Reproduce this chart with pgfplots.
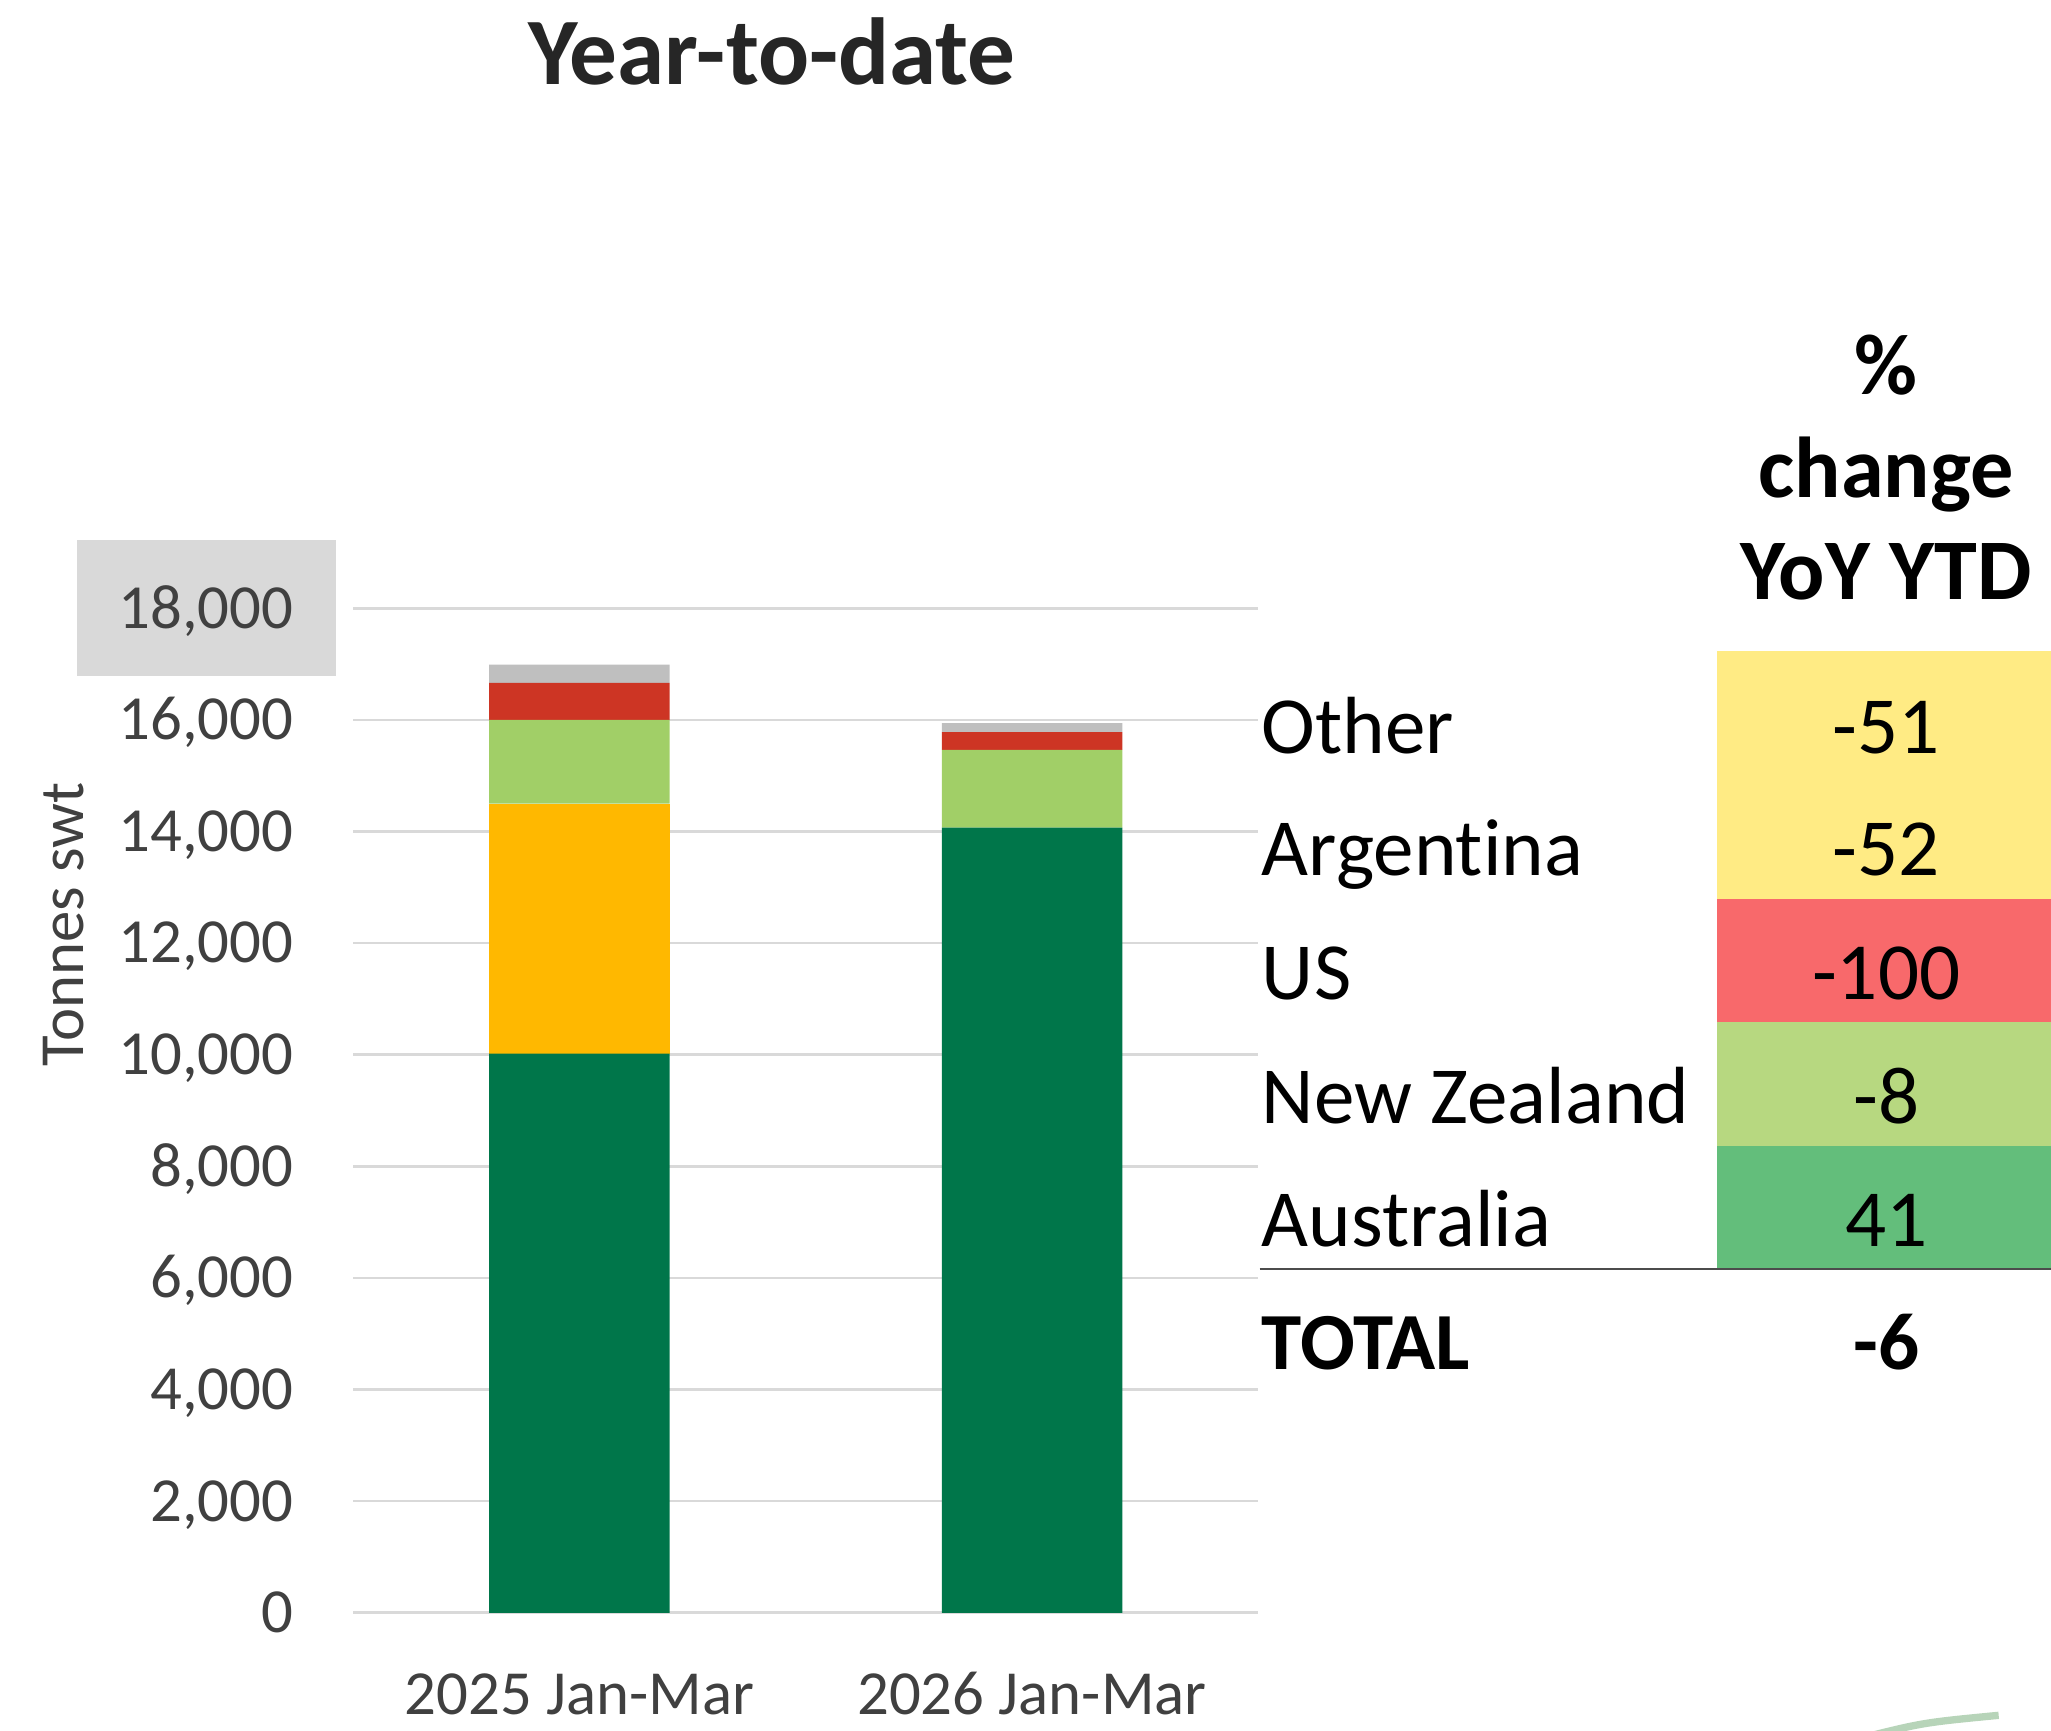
\documentclass[border=0pt]{standalone}
\usepackage{pgfplots}
\pgfplotsset{compat=1.18}
\usepackage{fontspec}
\setmainfont{Carlito}[Ligatures=NoCommon]
\definecolor{cAus}{HTML}{00764A}
\definecolor{cUS}{HTML}{FFB800}
\definecolor{cNZ}{HTML}{A1CF67}
\definecolor{cArg}{HTML}{CD3524}
\definecolor{cOth}{HTML}{BFBFBF}
\definecolor{gridgray}{HTML}{D9D9D9}
\definecolor{tickgray}{HTML}{404040}
\definecolor{titlegray}{HTML}{262626}
\definecolor{tYel}{HTML}{FFEB84}
\definecolor{tRed}{HTML}{F8696B}
\definecolor{tLGr}{HTML}{B7D880}
\definecolor{tGrn}{HTML}{63BE7B}
\definecolor{arcgreen}{HTML}{B7D4B9}
\begin{document}
\begin{tikzpicture}[x=1pt,y=1pt]
\useasboundingbox (-67.5,-22.5) rectangle (324.5,308.25);
\fill[gridgray] (-52.75,179) rectangle (-3.25,205);
\begin{axis}[
  at={(0,0)}, anchor=south west,
  scale only axis, width=173pt, height=192pt,
  ybar stacked, bar width=34.5pt,
  xmin=-0.5, xmax=1.5, ymin=0, ymax=18000,
  xtick={0,1}, xticklabels={2025 Jan-Mar,2026 Jan-Mar},
  ytick={0,2000,...,18000},
  scaled y ticks=false,
  /pgf/number format/fixed,
  /pgf/number format/1000 sep={,},
  /pgf/number format/assume math mode=true,
  axis line style={draw=none},
  major tick length=0pt,
  ymajorgrids, grid style={gridgray, line width=0.5pt},
  tick label style={font=\fontsize{12}{14}\selectfont, text=tickgray},
  yticklabel style={anchor=base east, inner sep=0pt, xshift=-11.25pt, yshift=-3.8pt},
  xticklabel style={anchor=base, inner sep=0pt, yshift=-19.5pt},
  ylabel={Tonnes swt},
  ylabel style={at={(axis description cs:-0.3194,0.685)}, anchor=center, font=\fontsize{12}{14}\selectfont, text=tickgray},
  clip=false,
]
\addplot[fill=cAus, draw=none] coordinates {(0,10020) (1,14070)};
\addplot[fill=cUS, draw=none] coordinates {(0,4480) (1,0)};
\addplot[fill=cNZ, draw=none] coordinates {(0,1500) (1,1390)};
\addplot[fill=cArg, draw=none] coordinates {(0,660) (1,320)};
\addplot[fill=cOth, draw=none] coordinates {(0,330) (1,160)};
\end{axis}
% title
\node[anchor=base, font=\fontsize{18.2}{21}\selectfont\bfseries, text=titlegray] at (80,292) {Year-to-date};
% table header
\begin{scope}[every node/.style={anchor=base, font=\fontsize{16.5}{19}\selectfont\bfseries}]
\node at (293,232.75) {\%};
\node at (293,213.25) {change};
\node at (293,193.75) {YoY YTD};
\end{scope}
% cells
\fill[tYel] (260.75,136.5) rectangle (324.5,183.75);
\fill[tRed] (260.75,113) rectangle (324.5,136.5);
\fill[tLGr] (260.75,89.25) rectangle (324.5,113);
\fill[tGrn] (260.75,65.75) rectangle (324.5,89.25);
\draw[color=black!70, line width=0.4pt] (173.25,65.75) -- (324.5,65.75);
\begin{scope}[every node/.style={font=\fontsize{15.5}{18}\selectfont, inner sep=0pt}]
\node[anchor=base west] at (173.5,164.3) {Other};
\node[anchor=base west] at (173.5,141) {Argent\kern0pt ina};
\node[anchor=base west] at (173.5,117.3) {US};
\node[anchor=base west] at (173.5,93.6) {New Zealand};
\node[anchor=base west] at (173.5,70) {Australia};
\node[anchor=base west, font=\fontsize{15.5}{18}\selectfont\bfseries] at (173.5,46.5) {TOTAL};
\node[anchor=base] at (293,164.3) {-51};
\node[anchor=base] at (293,141) {-52};
\node[anchor=base] at (293,117.3) {-100};
\node[anchor=base] at (293,93.6) {-8};
\node[anchor=base] at (293,70) {41};
\node[anchor=base, font=\fontsize{15.5}{18}\selectfont\bfseries] at (293,46.5) {-6};
\end{scope}
\draw[arcgreen, line width=1.4pt] (288,-24) .. controls (300,-21) .. (314.5,-19.6);
\end{tikzpicture}
\end{document}
